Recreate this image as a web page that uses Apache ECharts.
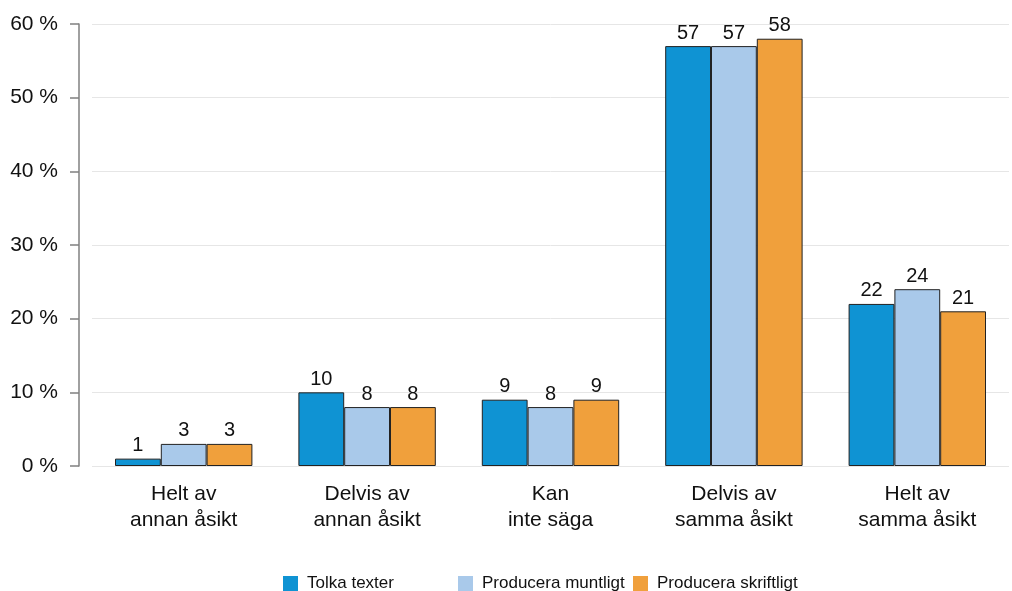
<!DOCTYPE html>
<html>
<head>
<meta charset="utf-8">
<script src="https://cdn.jsdelivr.net/npm/echarts@6/dist/echarts.min.js"></script>
<style>
  html, body { margin: 0; padding: 0; background: #fff; }
  #chart { width: 1012px; height: 591px; }
</style>
</head>
<body>
<div id="chart"></div>
<script>
const categories = ['Helt av\nannan åsikt', 'Delvis av\nannan åsikt', 'Kan\ninte säga', 'Delvis av\nsamma åsikt', 'Helt av\nsamma åsikt']
const seriesNames = ['Tolka texter', 'Producera muntligt', 'Producera skriftligt']
const tolka = [1, 10, 9, 57, 22]
const muntligt = [3, 8, 8, 57, 24]
const skriftligt = [3, 8, 9, 58, 21]
const colors = ['#0f93d3', '#a9c9ea', '#f0a03c']

const font = "'Liberation Sans', Arial, sans-serif"
const values = [tolka, muntligt, skriftligt]

const chart = echarts.init(document.getElementById('chart'), null, { renderer: 'canvas' })

// legend items are placed one by one, spacing in the original is uneven
const legendLeft = [283, 458, 633]

chart.setOption({
  animation: false,
  grid: { left: 92, right: 3, top: 24, bottom: 125 },
  legend: seriesNames.map((name, i) => ({
    data: [{ name, itemStyle: { borderWidth: 0 } }],
    left: legendLeft[i],
    top: 575,
    padding: 0,
    itemWidth: 15,
    itemHeight: 15,
    itemGap: 9,
    icon: 'rect',
    textStyle: { fontFamily: font, fontSize: 17, color: '#111', padding: [0, 0, 0, 4] }
  })),
  xAxis: {
    type: 'category',
    data: categories,
    axisLine: { show: false },
    axisTick: { show: false },
    axisLabel: {
      fontFamily: font, fontSize: 21, color: '#111',
      lineHeight: 26, margin: 15, interval: 0
    }
  },
  yAxis: {
    type: 'value',
    min: 0, max: 60, interval: 10,
    offset: 13,
    axisLine: { show: true, lineStyle: { color: '#808080', width: 1.5 } },
    axisTick: { show: true, inside: false, length: 9, lineStyle: { color: '#808080', width: 1.5 } },
    splitLine: { lineStyle: { color: '#e6e6e6' } },
    axisLabel: {
      fontFamily: font, fontSize: 21, color: '#111', margin: 21,
      formatter: '{value} %'
    }
  },
  series: seriesNames.map((name, i) => ({
    name,
    type: 'bar',
    data: values[i],
    barWidth: 45.8,
    barGap: '0%',
    itemStyle: { color: colors[i], borderColor: '#222', borderWidth: 1 },
    label: {
      show: true, position: 'top', distance: 3,
      fontFamily: font, fontSize: 20, color: '#111'
    }
  }))
})
</script>
</body>
</html>
